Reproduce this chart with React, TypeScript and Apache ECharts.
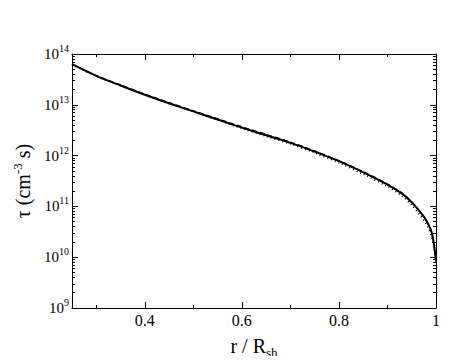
import React, { useEffect, useRef } from "react";
import * as echarts from "echarts";

const rValues = [0.25, 0.3, 0.35, 0.4, 0.45, 0.5, 0.55, 0.6, 0.65, 0.7, 0.75, 0.8, 0.85, 0.9, 0.93, 0.95, 0.97, 0.98, 0.99, 0.995, 1.0];
const tauSolid = [6.31e13, 3.72e13, 2.4e13, 1.58e13, 1.07e13, 7.41e12, 5.13e12, 3.55e12, 2.51e12, 1.78e12, 1.2e12, 7.76e11, 4.68e11, 2.69e11, 1.78e11, 1.2e11, 7.24e10, 5.25e10, 3.31e10, 2.0e10, 8.9e9];
const tauDashed = [6.31e13, 3.75e13, 2.45e13, 1.62e13, 1.1e13, 7.6e12, 5.3e12, 3.68e12, 2.6e12, 1.83e12, 1.23e12, 7.9e11, 4.8e11, 2.75e11, 1.82e11, 1.22e11, 7.3e10, 5.3e10, 3.3e10, 1.95e10, 8.5e9];
const tauDotted = [6.2e13, 3.65e13, 2.38e13, 1.56e13, 1.05e13, 7.3e12, 5.0e12, 3.42e12, 2.4e12, 1.69e12, 1.13e12, 7.2e11, 4.3e11, 2.45e11, 1.6e11, 1.05e11, 6.2e10, 4.4e10, 2.7e10, 1.6e10, 7.5e9];

const xTickValues = [0.4, 0.6, 0.8, 1];
const xTickLabels = ["0.4", "0.6", "0.8", "1"];
const xMinorTicks = [0.3, 0.5, 0.7, 0.9];
const yTickValues = [1e9, 1e10, 1e11, 1e12, 1e13, 1e14];
const yTickExps = ["9", "10", "11", "12", "13", "14"];
const yMinorTicks = [
  2e9, 3e9, 4e9, 5e9, 6e9, 7e9, 8e9, 9e9,
  2e10, 3e10, 4e10, 5e10, 6e10, 7e10, 8e10, 9e10,
  2e11, 3e11, 4e11, 5e11, 6e11, 7e11, 8e11, 9e11,
  2e12, 3e12, 4e12, 5e12, 6e12, 7e12, 8e12, 9e12,
  2e13, 3e13, 4e13, 5e13, 6e13, 7e13, 8e13, 9e13,
];

const FONT = "Liberation Serif";

export default function App() {
  const ref = useRef<HTMLDivElement>(null);
  useEffect(() => {
    if (!ref.current) return;
    const chart = echarts.init(ref.current, null, { renderer: "svg" });
    const axisLine = { show: true, lineStyle: { color: "#000", width: 1 } };
    const xBase = { type: "value", min: 0.25, max: 1, splitLine: { show: false } };
    const yBase = { type: "log", logBase: 10, min: 1e9, max: 1e14, splitLine: { show: false } };
    const xLabel = (v: number) => {
      const i = xTickValues.findIndex((t) => Math.abs(t - v) < 1e-9);
      return i >= 0 ? xTickLabels[i] : "";
    };
    const yLabel = (v: number) => {
      const i = yTickValues.findIndex((t) => Math.abs(t - v) / t < 1e-6);
      return i >= 0 ? "{b|10}{e|" + yTickExps[i] + "}" : "";
    };
    const mk = (ys: number[]) => rValues.map((r, i) => [r, ys[i]]);
    chart.setOption({
      animation: false,
      backgroundColor: "#fff",
      grid: { left: 72, top: 54, width: 364, height: 255, containLabel: false },
      xAxis: [
        {
          ...xBase,
          position: "bottom",
          axisLine,
          axisTick: { show: true, inside: true, length: 6, customValues: xTickValues, lineStyle: { color: "#000" } },
          axisLabel: { show: true, customValues: xTickValues, formatter: xLabel, color: "#000", fontFamily: FONT, fontSize: 16, margin: 4 },
          name: "{a|r / R}{s|sh}",
          nameLocation: "middle",
          nameGap: 24,
          nameTextStyle: {
            color: "#000",
            fontFamily: FONT,
            rich: {
              a: { fontSize: 20, fontFamily: FONT, color: "#000" },
              s: { fontSize: 13, fontFamily: FONT, color: "#000", padding: [14, 0, 0, 0] },
            },
          },
        },
        {
          ...xBase,
          position: "bottom",
          axisLine: { show: false },
          axisTick: { show: true, inside: true, length: 3, customValues: xMinorTicks, lineStyle: { color: "#000" } },
          axisLabel: { show: false },
        },
        {
          ...xBase,
          position: "top",
          axisLine,
          axisTick: { show: true, inside: true, length: 6, customValues: xTickValues, lineStyle: { color: "#000" } },
          axisLabel: { show: false },
        },
        {
          ...xBase,
          position: "top",
          axisLine: { show: false },
          axisTick: { show: true, inside: true, length: 3, customValues: xMinorTicks, lineStyle: { color: "#000" } },
          axisLabel: { show: false },
        },
      ],
      yAxis: [
        {
          ...yBase,
          position: "left",
          axisLine,
          axisTick: { show: true, inside: true, length: 6, customValues: yTickValues, lineStyle: { color: "#000" } },
          axisLabel: {
            show: true,
            customValues: yTickValues,
            formatter: yLabel,
            margin: 3,
            color: "#000",
            fontFamily: FONT,
            rich: {
              b: { fontSize: 15, fontFamily: FONT, color: "#000" },
              e: { fontSize: 10, fontFamily: FONT, color: "#000", padding: [0, 0, 11, 0] },
            },
          },
          name: "{t|τ (cm}{e|-3}{t| s)}",
          nameLocation: "middle",
          nameGap: 32,
          nameTextStyle: {
            color: "#000",
            fontFamily: FONT,
            rich: {
              t: { fontSize: 20, fontFamily: FONT, color: "#000" },
              e: { fontSize: 13, fontFamily: FONT, color: "#000", padding: [0, 0, 12, 0] },
            },
          },
        },
        {
          ...yBase,
          position: "left",
          axisLine: { show: false },
          axisTick: { show: true, inside: true, length: 3, customValues: yMinorTicks, lineStyle: { color: "#000" } },
          axisLabel: { show: false },
        },
        {
          ...yBase,
          position: "right",
          axisLine,
          axisTick: { show: true, inside: true, length: 6, customValues: yTickValues, lineStyle: { color: "#000" } },
          axisLabel: { show: false },
        },
        {
          ...yBase,
          position: "right",
          axisLine: { show: false },
          axisTick: { show: true, inside: true, length: 3, customValues: yMinorTicks, lineStyle: { color: "#000" } },
          axisLabel: { show: false },
        },
      ],
      series: [
        {
          type: "line",
          data: mk(tauDotted),
          showSymbol: false,
          smooth: 0.3,
          lineStyle: { color: "#000", width: 1.5, type: [1, 3] },
        },
        {
          type: "line",
          data: mk(tauDashed),
          showSymbol: false,
          smooth: 0.3,
          lineStyle: { color: "#000", width: 1.5, type: [5, 3] },
        },
        {
          type: "line",
          data: mk(tauSolid),
          showSymbol: false,
          smooth: 0.3,
          lineStyle: { color: "#000", width: 2 },
        },
      ],
    });
    return () => chart.dispose();
  }, []);
  return <div ref={ref} style={{ width: 471, height: 364, margin: -8 }} />;
}
